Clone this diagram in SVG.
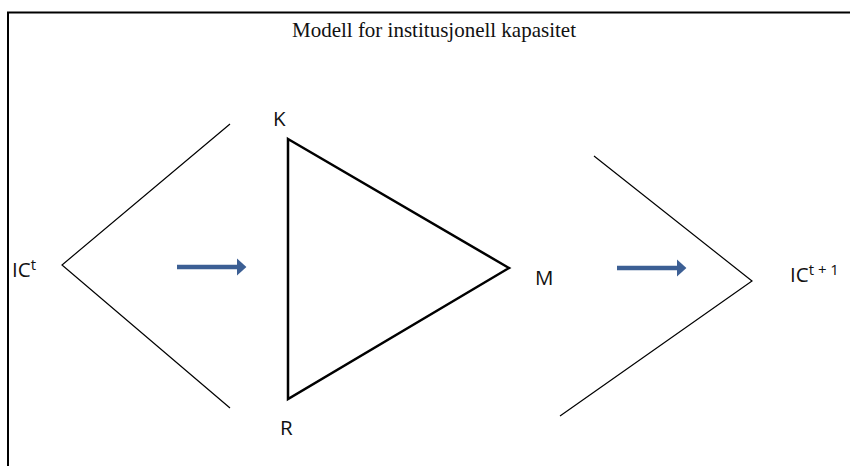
<svg xmlns="http://www.w3.org/2000/svg" width="850" height="466" viewBox="0 0 850 466">
<style>
.ln{fill:none;stroke:#000;stroke-width:1.2}
.lbl{font-family:"Open Sans","Liberation Sans",sans-serif;font-size:20.5px;fill:#111}
.sup{font-size:15px}
.arr{stroke:#3c5f94;stroke-width:4.5}
</style>
<defs>
<marker id="ah" markerWidth="4" markerHeight="4" refX="1" refY="2" orient="auto" markerUnits="strokeWidth">
<path d="M0,0 L2.2,2 L0,4 Z" fill="#3c5f94"/>
</marker>
</defs>
<rect width="850" height="466" fill="#fff"/>
<path d="M8,466 V12.5 H850" fill="none" stroke="#000" stroke-width="2"/>
<text x="434" y="37" text-anchor="middle" font-family="Liberation Serif,serif" font-size="21" fill="#111">Modell for institusjonell kapasitet</text>
<g id="chevron-left"><polyline class="ln" points="230,124 62,265 230,408"/></g>
<g id="triangle-KMR"><polygon points="288,139 509,268 288,399" fill="none" stroke="#000" stroke-width="2.5"/></g>
<g id="chevron-right"><polyline class="ln" points="594,156 752,281 560,416"/></g>
<g id="label-ICt"><text class="lbl" x="12" y="277">IC<tspan class="sup" dy="-7">t</tspan></text></g>
<g id="label-K"><text class="lbl" x="273" y="126">K</text></g>
<g id="label-R"><text class="lbl" x="280" y="435">R</text></g>
<g id="label-M"><text class="lbl" x="535" y="285">M</text></g>
<g id="label-ICt1"><text class="lbl" x="790" y="282">IC<tspan class="sup" dy="-7">t + 1</tspan></text></g>
<g id="connectors">
<line class="arr" x1="177" y1="267" x2="241" y2="267" marker-end="url(#ah)"/>
<line class="arr" x1="617" y1="268" x2="681" y2="268" marker-end="url(#ah)"/>
</g>
</svg>
